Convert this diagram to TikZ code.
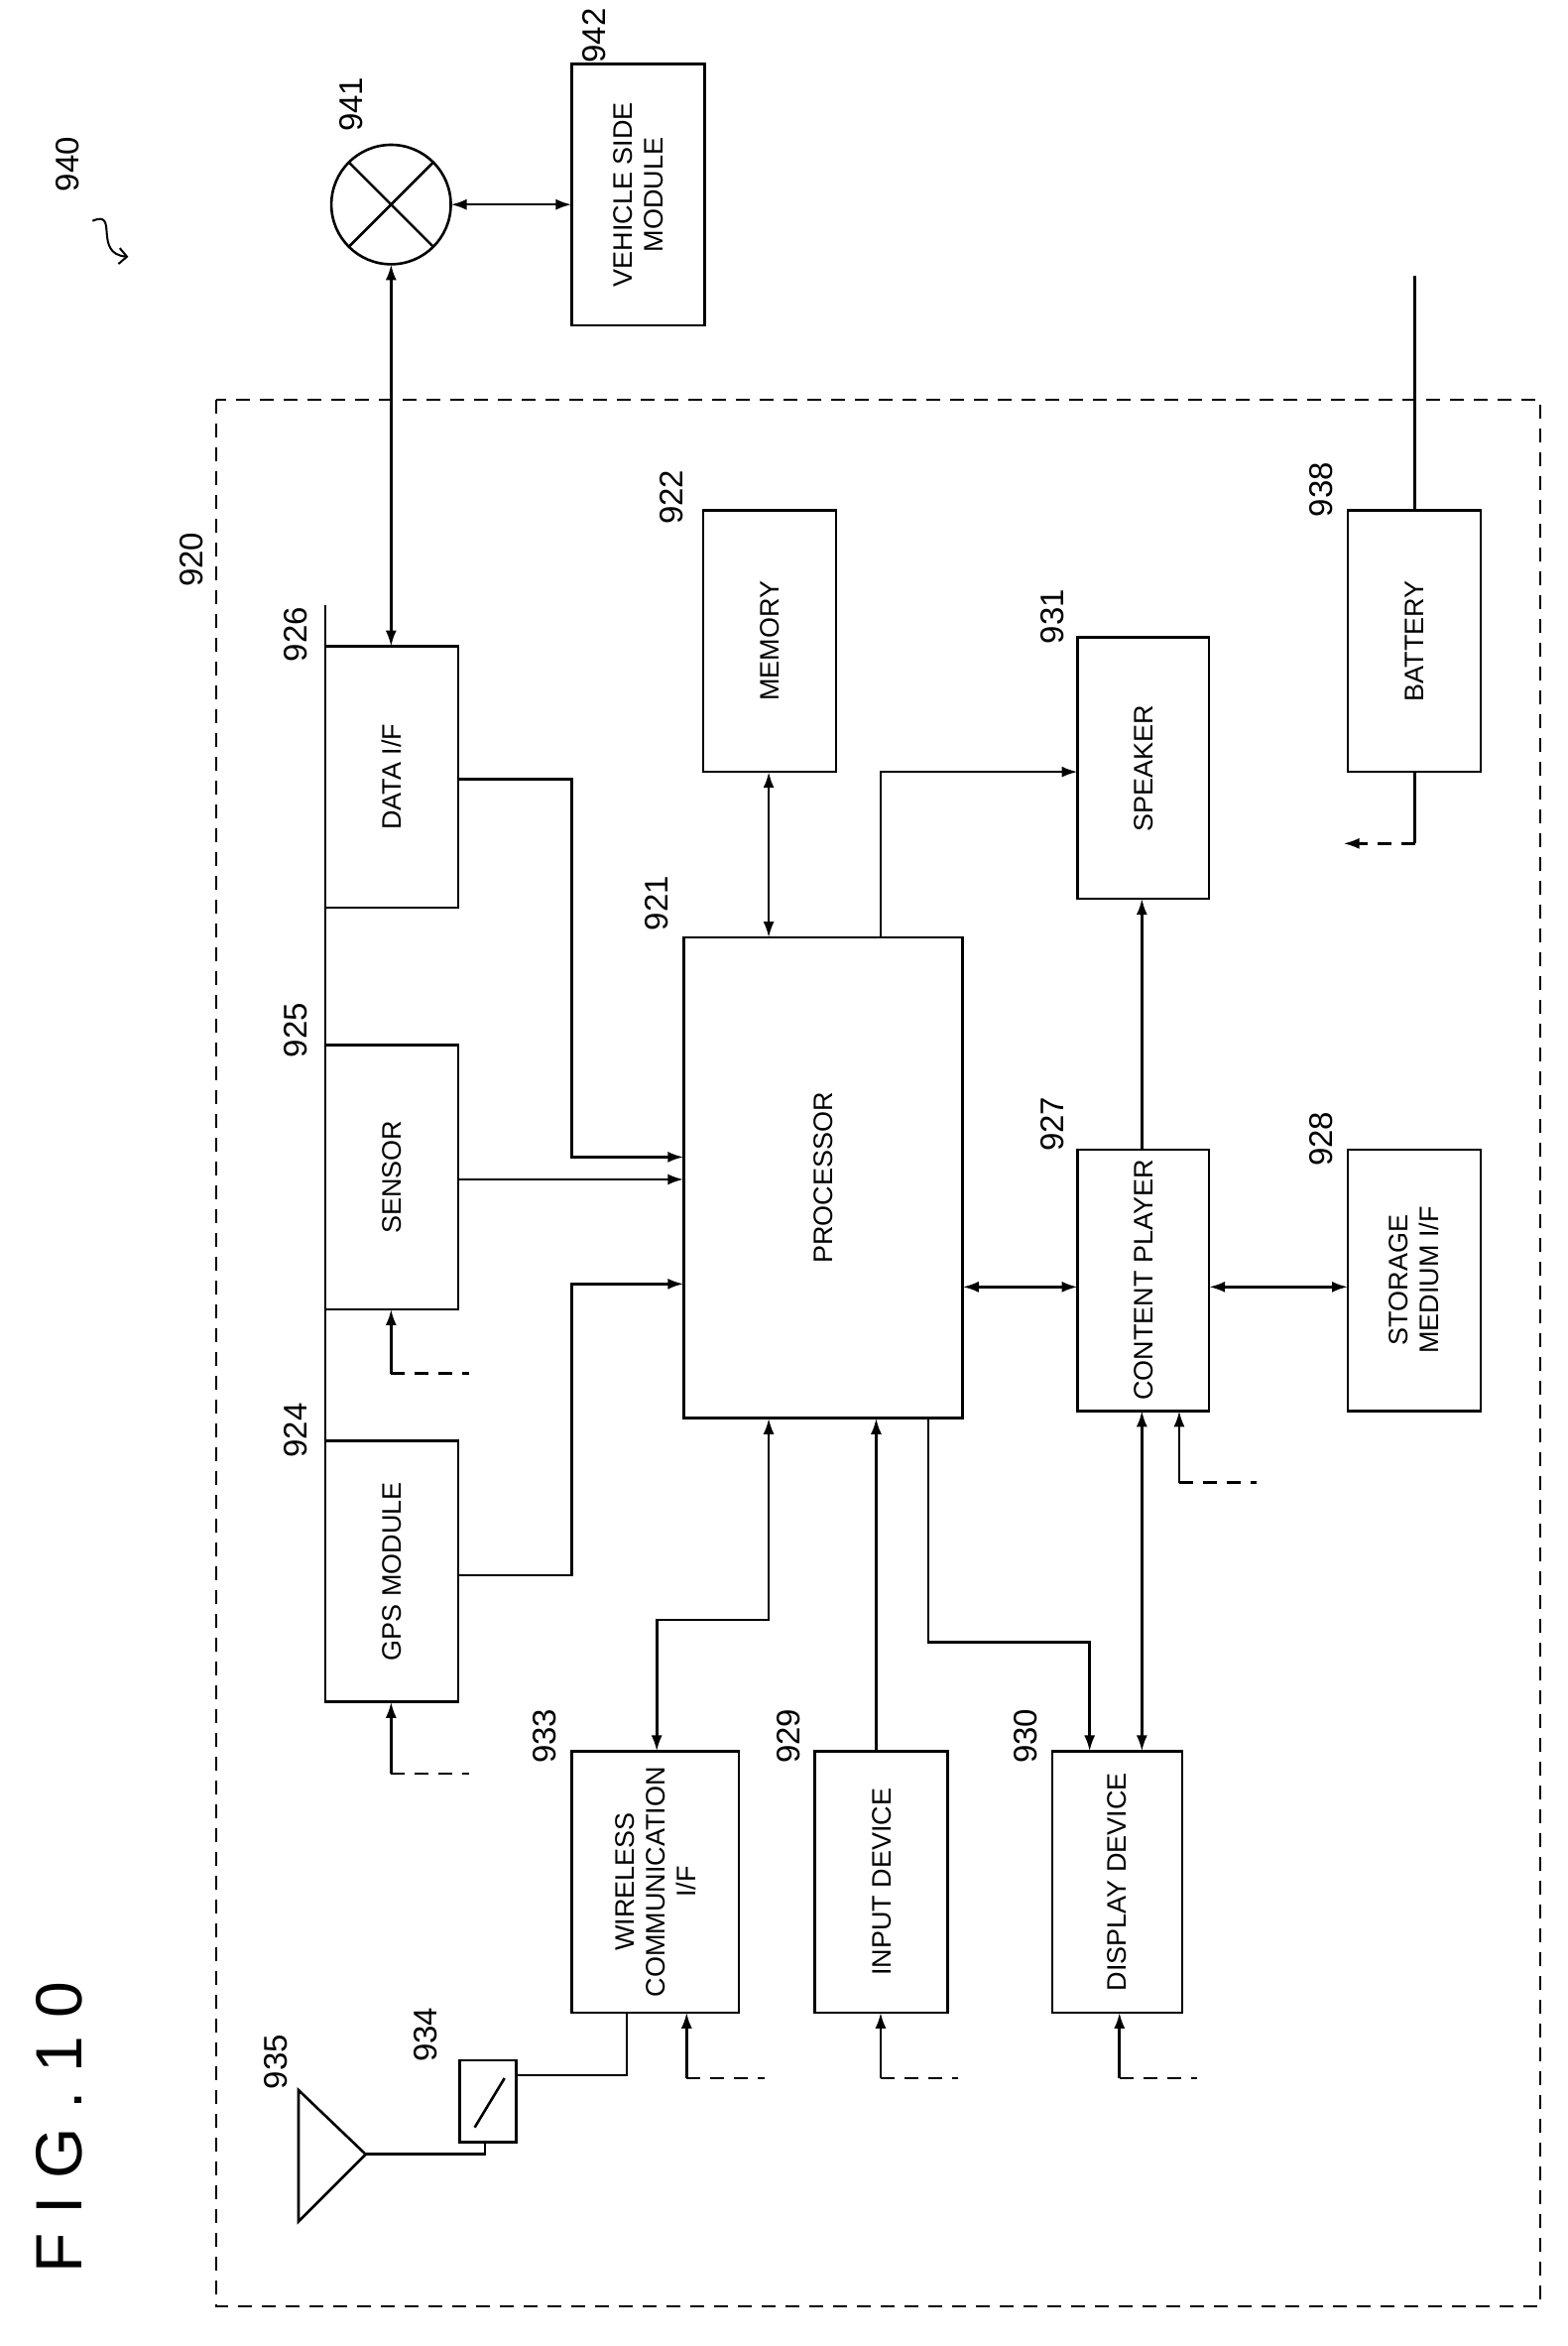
\documentclass[tikz,border=0pt]{standalone}
\usepackage{fontspec}
\setmainfont{Liberation Sans}
\usetikzlibrary{arrows.meta}
\begin{document}
\begin{tikzpicture}[x=1.505pt,y=-1.505pt,line width=2.6pt,
  t/.style={rotate=90,font=\fontsize{27}{31}\selectfont,align=center},
  num/.style={rotate=90,font=\fontsize{33}{35}\selectfont},
  a/.style={-{Latex[length=16pt,width=11pt]}},
  aa/.style={{Latex[length=16pt,width=11pt]}-{Latex[length=16pt,width=11pt]}},
  dsh/.style={dash pattern=on 14pt off 10pt}]
\useasboundingbox (0,0) rectangle (1050,1571.4);
\draw[dsh,line width=2pt] (145,268) rectangle (1032,1545);
% boxes
\draw (383,43) rectangle (472,218) node[t,midway] (vsm) {VEHICLE SIDE\\MODULE};
\draw (262,137) circle (40); \node (x941) at (262,137) {};
\draw (234,109)--(290,165) (234,165)--(290,109);
\draw (218,433) rectangle (307,608) node[t,midway] (dif) {DATA I/F};
\draw (218,700) rectangle (307,877) node[t,midway] (sen) {SENSOR};
\draw (218,965) rectangle (307,1140) node[t,midway] (gps) {GPS MODULE};
\draw (471,342) rectangle (560,517) node[t,midway] (mem) {MEMORY};
\draw (458,628) rectangle (645,950) node[t,midway] (proc) {PROCESSOR};
\draw (722,427) rectangle (810,602) node[t,midway] (spk) {SPEAKER};
\draw (903,342) rectangle (992,517) node[t,midway] (bat) {BATTERY};
\draw (722,770) rectangle (810,945) node[t,midway] (cp) {CONTENT PLAYER};
\draw (903,770) rectangle (992,945) node[t,midway] (st) {STORAGE\\MEDIUM I/F};
\draw (383,1173) rectangle (495,1348) node[t,midway] (wc) {WIRELESS\\COMMUNICATION\\I/F};
\draw (546,1173) rectangle (635,1348) node[t,midway] (inp) {INPUT DEVICE};
\draw (705,1173) rectangle (792,1348) node[t,midway] (disp) {DISPLAY DEVICE};
\draw (308,1380) rectangle (346,1435); \node (sw) at (327,1407) {};
\draw (318,1425)--(338,1392);
\draw (245,1443)--(200,1400)--(200,1488)--cycle; \node (ant) at (215,1443) {};
% bus
\draw (218,405)--(218,1140);
% connections
\draw[aa] (262,433)--(262,177);
\draw[aa] (302,137)--(383,137);
\draw[a] (307,522)--(383,522)--(383,775)--(458,775);
\draw[a] (307,790)--(458,790);
\draw[a] (307,1055)--(383,1055)--(383,860)--(458,860);
\draw[aa] (515,517)--(515,628);
\draw[a] (590,628)--(590,517)--(722,517);
\draw[aa] (645,862)--(722,862);
\draw[a] (765,770)--(765,602);
\draw[aa] (810,862)--(903,862);
\draw[aa] (765,945)--(765,1173);
\draw[a] (622,950)--(622,1100)--(730,1100)--(730,1173);
\draw[a] (587,1173)--(587,950);
\draw[aa] (515,950)--(515,1085)--(440,1085)--(440,1173);
\draw (420,1348)--(420,1390)--(346,1390);
\draw (325,1435)--(325,1443)--(245,1443);
% dashed inputs
\foreach \x/\y/\yy in {262/1140/1188,262/877/920,460/1348/1392,590/1348/1392,750/1348/1392,790/945/993}{
  \draw[a] (\x,\yy)--(\x,\y);
  \draw[dsh] (\x,\yy)--(\x+52,\yy);}
\draw (948,185)--(948,342);
\draw (948,517)--(948,565);
\draw[dsh,-{Latex[length=16pt,width=11pt]}] (948,565)--(900,565);
% numbers
\node[num] at (45,110) {940};
\draw[line width=2pt,-{Straight Barb[length=8pt]}] (62,148) .. controls (80,140) and (62,170) .. (86,172);
\node[num] at (235,70) {941};
\node[num] at (398,24) {942};
\node[num] at (128,375) {920};
\node[num] at (198,425) {926};
\node[num] at (198,690) {925};
\node[num] at (198,958) {924};
\node[num] at (450,333) {922};
\node[num] at (440,605) {921};
\node[num] at (705,413) {931};
\node[num] at (705,753) {927};
\node[num] at (885,763) {928};
\node[num] at (885,328) {938};
\node[num] at (365,1163) {933};
\node[num] at (528,1163) {929};
\node[num] at (687,1163) {930};
\node[num] at (285,1363) {934};
\node[num] at (185,1381) {935};
\node[rotate=90,font=\fontsize{66}{68}\selectfont] at (40,1425) {F I G . 1 0};
\end{tikzpicture}
\end{document}
